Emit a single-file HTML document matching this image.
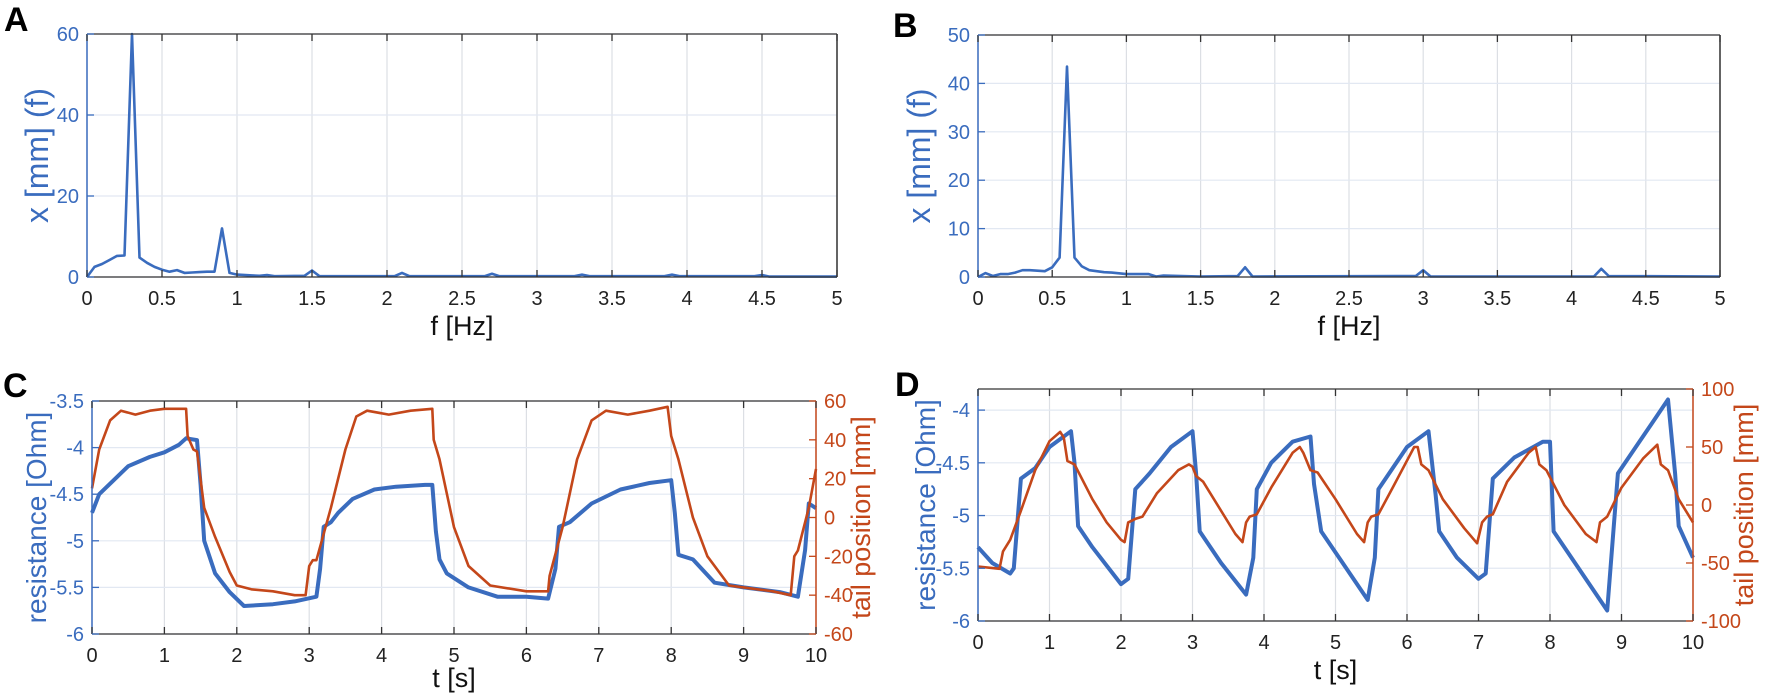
<!DOCTYPE html>
<html><head><meta charset="utf-8"><style>
html,body{margin:0;padding:0;background:#fff;}
svg{display:block;font-family:"Liberation Sans",sans-serif;}
</style></head><body>
<svg id="fig" width="1772" height="695" viewBox="0 0 1772 695" xmlns="http://www.w3.org/2000/svg">
<text x="4" y="31" font-size="34" font-weight="bold">A</text>
<text x="893" y="37" font-size="34" font-weight="bold">B</text>
<text x="3" y="397" font-size="34" font-weight="bold">C</text>
<text x="895" y="396" font-size="34" font-weight="bold">D</text>
</svg>
<script>
// Panel A data
const aFreq=[0,0.05,0.1,0.15,0.2,0.25,0.3,0.35,0.4,0.45,0.5,0.55,0.6,0.65,0.7,0.75,0.8,0.85,0.9,0.95,1.0,1.1,1.15,1.2,1.25,1.45,1.5,1.55,2.05,2.1,2.15,2.65,2.7,2.75,3.25,3.3,3.35,3.85,3.9,3.95,4.45,4.5,4.55,5];
const aAmp=[0,2.5,3.2,4.2,5.2,5.3,60,4.8,3.5,2.5,1.8,1.3,1.7,1.0,1.1,1.2,1.3,1.3,12,1.0,0.6,0.4,0.3,0.5,0.2,0.3,1.6,0.2,0.2,1.0,0.2,0.2,0.8,0.2,0.2,0.6,0.2,0.2,0.6,0.2,0.2,0.5,0.1,0.1];
// Panel B data
const bFreq=[0,0.05,0.1,0.15,0.2,0.25,0.3,0.35,0.4,0.45,0.5,0.55,0.6,0.65,0.7,0.75,0.8,0.85,0.9,1.0,1.15,1.2,1.25,1.5,1.75,1.8,1.85,2.95,3.0,3.05,4.15,4.2,4.25,5];
const bAmp=[0,0.8,0.2,0.6,0.6,0.9,1.4,1.4,1.3,1.2,2,4,43.5,4,2.2,1.4,1.2,1.0,0.9,0.6,0.6,0.1,0.3,0.1,0.2,2.0,0.1,0.2,1.4,0.1,0.1,1.7,0.2,0.1];
const fTicks=[0,0.5,1,1.5,2,2.5,3,3.5,4,4.5,5];
const aYTicks=[0,20,40,60];
const bYTicks=[0,10,20,30,40,50];
// Panel C data
const cTimeR=[0,0.1,0.3,0.5,0.8,1.0,1.2,1.3,1.45,1.5,1.55,1.7,1.9,2.1,2.5,2.8,3.1,3.15,3.2,3.3,3.4,3.6,3.9,4.2,4.6,4.7,4.75,4.8,4.9,5.2,5.6,6.0,6.3,6.4,6.45,6.6,6.9,7.3,7.7,8.0,8.05,8.1,8.3,8.6,9.0,9.5,9.75,9.85,9.9,10];
const cRes=[-4.7,-4.5,-4.35,-4.2,-4.1,-4.05,-3.97,-3.9,-3.92,-4.4,-5.0,-5.35,-5.55,-5.7,-5.68,-5.65,-5.6,-5.3,-4.85,-4.8,-4.7,-4.55,-4.45,-4.42,-4.4,-4.4,-4.9,-5.2,-5.35,-5.5,-5.6,-5.6,-5.62,-5.3,-4.85,-4.8,-4.6,-4.45,-4.38,-4.35,-4.7,-5.15,-5.2,-5.45,-5.5,-5.55,-5.6,-5.1,-4.6,-4.65];
const cTimeT=[0,0.1,0.25,0.4,0.6,0.8,1.0,1.3,1.32,1.4,1.45,1.55,1.7,1.9,2.0,2.2,2.5,2.8,2.95,3.0,3.05,3.1,3.3,3.5,3.65,3.8,4.1,4.4,4.7,4.72,4.8,5.0,5.2,5.5,6.0,6.3,6.32,6.5,6.7,6.9,7.1,7.4,7.7,7.95,8.0,8.1,8.3,8.5,8.8,9.0,9.4,9.65,9.7,9.75,9.9,10];
const cTail=[15,35,50,55,53,55,56,56,42,35,34,5,-10,-28,-35,-37,-38,-40,-40,-25,-22,-22,5,35,52,55,53,55,56,40,30,-5,-25,-35,-38,-38,-30,-5,30,50,55,53,55,57,42,30,0,-20,-35,-36,-38,-40,-20,-17,5,25];
const cResTicks=[-6,-5.5,-5,-4.5,-4,-3.5];
const cTailTicks=[-60,-40,-20,0,20,40,60];
const tTicks=[0,1,2,3,4,5,6,7,8,9,10];
// Panel D data
const dTimeR=[0,0.2,0.45,0.5,0.6,0.8,1.0,1.3,1.35,1.4,1.6,2.0,2.1,2.2,2.4,2.7,3.0,3.05,3.1,3.4,3.75,3.85,3.9,4.1,4.4,4.65,4.7,4.8,5.1,5.45,5.55,5.6,5.8,6.0,6.3,6.4,6.45,6.7,7.0,7.1,7.2,7.5,7.9,8.0,8.05,8.4,8.8,8.95,9.2,9.5,9.65,9.75,9.8,10];
const dRes=[-5.3,-5.45,-5.55,-5.5,-4.65,-4.55,-4.35,-4.2,-4.5,-5.1,-5.3,-5.65,-5.6,-4.75,-4.6,-4.35,-4.2,-4.6,-5.15,-5.45,-5.75,-5.4,-4.75,-4.5,-4.3,-4.25,-4.7,-5.15,-5.45,-5.8,-5.4,-4.75,-4.55,-4.35,-4.2,-4.8,-5.15,-5.4,-5.6,-5.55,-4.65,-4.45,-4.3,-4.3,-5.15,-5.5,-5.9,-4.6,-4.35,-4.05,-3.9,-4.6,-5.1,-5.4];
const dTimeT=[0,0.3,0.35,0.45,0.6,0.8,1.0,1.15,1.2,1.25,1.35,1.6,1.8,2.0,2.05,2.1,2.2,2.3,2.5,2.8,2.95,3.0,3.05,3.15,3.4,3.6,3.7,3.75,3.8,3.9,4.1,4.4,4.5,4.55,4.65,4.75,5.0,5.3,5.4,5.45,5.5,5.6,5.8,6.1,6.15,6.2,6.3,6.5,6.8,6.98,7.05,7.12,7.2,7.4,7.7,7.8,7.85,7.95,8.2,8.5,8.65,8.7,8.8,9.0,9.3,9.5,9.55,9.65,9.8,10];
const dTail=[-53,-55,-40,-30,-5,30,55,63,58,38,35,5,-15,-30,-32,-15,-12,-10,10,30,35,33,25,20,-5,-25,-32,-15,-10,-8,15,45,50,45,30,28,5,-25,-32,-15,-10,-8,15,50,50,35,30,5,-20,-33,-15,-10,-8,20,45,50,35,30,0,-25,-32,-15,-10,15,40,52,35,30,5,-15];
const dResTicks=[-6,-5.5,-5,-4.5,-4];
const dTailTicks=[-100,-50,0,50,100];

const NS='http://www.w3.org/2000/svg';
const svg=document.getElementById('fig');
const BLUE='#3a6cbe', ORANGE='#c4471a', AX='#333';
function mk(tag,attrs,parent){const e=document.createElementNS(NS,tag);for(const k in attrs)e.setAttribute(k,attrs[k]);(parent||svg).appendChild(e);return e;}
function scale(d0,d1,r0,r1){return v=>r0+(v-d0)/(d1-d0)*(r1-r0);}

function panel(p){
  const g=mk('g',{});
  
  
  const sx=scale(p.xmin,p.xmax,p.L,p.R), sy=scale(p.ymin,p.ymax,p.B,p.T);
  p.xTicks.forEach(v=>{const l=mk('line',{x1:sx(v),x2:sx(v),y1:p.T,y2:p.B,stroke:'#dcdfe4','stroke-width':1.2},g);
    
    });
  p.yTicks.forEach(v=>{const l=mk('line',{x1:p.L,x2:p.R,y1:sy(v),y2:sy(v),stroke:'#e2e8f2','stroke-width':1.2},g);
    
    });
  p.series.forEach(s=>{
    const ys=s.sy||sy;
    const pts=s.x.map((v,i)=>sx(v).toFixed(1)+','+ys(s.y[i]).toFixed(1)).join(' ');
    const pl=mk('polyline',{points:pts,fill:'none',stroke:s.color,'stroke-width':s.w||2.6,'stroke-linejoin':'round'},g);
    
    
  });
  mk('line',{x1:p.L,x2:p.R,y1:p.T,y2:p.T,stroke:AX,'stroke-width':1.3},g);
  mk('line',{x1:p.L,x2:p.R,y1:p.B,y2:p.B,stroke:AX,'stroke-width':1.3},g);
  mk('line',{x1:p.L,x2:p.L,y1:p.T,y2:p.B,stroke:BLUE,'stroke-width':1.5},g);
  mk('line',{x1:p.R,x2:p.R,y1:p.T,y2:p.B,stroke:p.right?ORANGE:AX,'stroke-width':1.5},g);
  p.xTicks.forEach(v=>{
    mk('line',{x1:sx(v),x2:sx(v),y1:p.B,y2:p.B-7,stroke:AX,'stroke-width':1.3},g);
    mk('line',{x1:sx(v),x2:sx(v),y1:p.T,y2:p.T+7,stroke:AX,'stroke-width':1.3},g);
    const t=mk('text',{x:sx(v),y:p.B+28,'font-size':20,'text-anchor':'middle',fill:'#222'},g);
    t.textContent=String(v);
    
    
  });
  p.yTicks.forEach(v=>{
    mk('line',{x1:p.L,x2:p.L+7,y1:sy(v),y2:sy(v),stroke:BLUE,'stroke-width':1.3},g);
    const t=mk('text',{x:p.L-8,y:sy(v)+7,'font-size':20,'text-anchor':'end',fill:BLUE},g);
    t.textContent=String(v);
    
    
  });
  if(p.right){
    const ry=p.right.sy;
    p.right.ticks.forEach(v=>{
      mk('line',{x1:p.R,x2:p.R-7,y1:ry(v),y2:ry(v),stroke:ORANGE,'stroke-width':1.3},g);
      const t=mk('text',{x:p.R+8,y:ry(v)+7,'font-size':20,'text-anchor':'start',fill:ORANGE},g);
      t.textContent=String(v);
      
      
    });
    const rt=mk('text',{x:0,y:0,'font-size':27,'text-anchor':'middle',fill:ORANGE,transform:`translate(${p.right.tx},${(p.T+p.B)/2}) rotate(-90)`},g);
    rt.textContent=p.right.title;
    
    
  }
  const xt=mk('text',{x:(p.L+p.R)/2,y:p.B+p.xTitleOff,'font-size':27,'text-anchor':'middle',fill:'#111'},g);
  xt.textContent=p.xTitle;
  
  
  const yt=mk('text',{x:0,y:0,'font-size':p.yTitleSize||28,'text-anchor':'middle',fill:BLUE,transform:`translate(${p.ytx},${(p.T+p.B)/2}) rotate(-90)`},g);
  yt.textContent=p.yTitle;
  
  
}

panel({name:'panel-a',L:87,R:837,T:34,B:277,xmin:0,xmax:5,ymin:0,ymax:60,xTicks:fTicks,yTicks:aYTicks,xTitle:'f [Hz]',xTitleOff:58,yTitle:'x [mm] (f)',ytx:48,yTitleSize:32,
  series:[{name:'spectrum-a-line',x:aFreq,y:aAmp,color:BLUE}]});
panel({name:'panel-b',L:978,R:1720,T:35,B:277,xmin:0,xmax:5,ymin:0,ymax:50,xTicks:fTicks,yTicks:bYTicks,xTitle:'f [Hz]',xTitleOff:58,yTitle:'x [mm] (f)',ytx:930,yTitleSize:32,
  series:[{name:'spectrum-b-line',x:bFreq,y:bAmp,color:BLUE}]});
const cRight=scale(-60,60,634,401);
panel({name:'panel-c',L:92,R:816,T:401,B:634,xmin:0,xmax:10,ymin:-6,ymax:-3.5,xTicks:tTicks,yTicks:cResTicks,xTitle:'t [s]',xTitleOff:53,yTitle:'resistance [Ohm]',ytx:46,
  right:{sy:cRight,ticks:cTailTicks,title:'tail position [mm]',tx:870},
  series:[{name:'resistance-c-line',x:cTimeR,y:cRes,color:BLUE,w:4},{name:'tail-position-c-line',x:cTimeT,y:cTail,color:ORANGE,sy:cRight}]});
const dRight=scale(-100,100,621,389);
panel({name:'panel-d',L:978,R:1693,T:389,B:621,xmin:0,xmax:10,ymin:-6.0,ymax:-3.8,xTicks:tTicks,yTicks:dResTicks,xTitle:'t [s]',xTitleOff:58,yTitle:'resistance [Ohm]',ytx:935,
  right:{sy:dRight,ticks:dTailTicks,title:'tail position [mm]',tx:1753},
  series:[{name:'resistance-d-line',x:dTimeR,y:dRes,color:BLUE,w:4},{name:'tail-position-d-line',x:dTimeT,y:dTail,color:ORANGE,sy:dRight}]});
</script>
</body></html>
